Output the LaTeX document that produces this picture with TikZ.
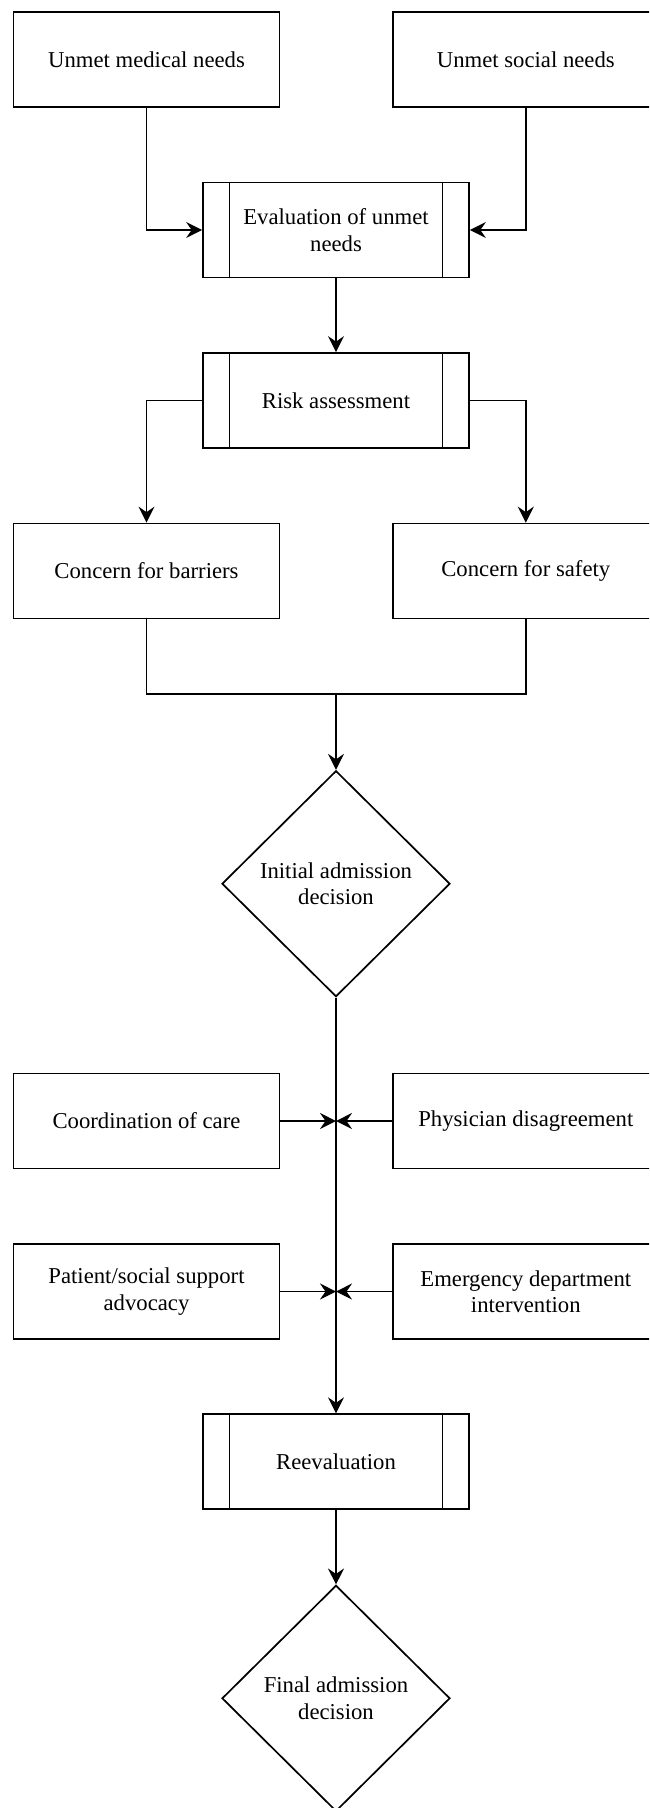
\documentclass[tikz,border=0pt]{standalone}
\usepackage{fontspec}
\setmainfont{Liberation Serif}
\usetikzlibrary{arrows.meta,shapes.geometric}
\begin{document}
\begin{tikzpicture}[x=1pt,y=-1pt,
  every node/.style={font=\fontsize{22.7pt}{26.5pt}\selectfont, align=center},
  procbox/.style={draw, line width=1.7pt, minimum width=266pt, minimum height=95pt, inner sep=0pt},
  predef/.style={procbox, path picture={
      \draw[line width=1.7pt] ([xshift=26.5pt]path picture bounding box.north west) -- ([xshift=26.5pt]path picture bounding box.south west);
      \draw[line width=1.7pt] ([xshift=-26.5pt]path picture bounding box.north east) -- ([xshift=-26.5pt]path picture bounding box.south east);}},
  decis/.style={draw, diamond, line width=1.7pt, minimum width=228pt, minimum height=226pt, inner sep=0pt},
  conn/.style={line width=1.7pt},
  arr/.style={conn, -{Stealth[length=16pt, width=16pt, inset=5.5pt]}}
]
\useasboundingbox (0,0) rectangle (649,1808);
\clip (0,0) rectangle (649,1808);
\fill[white] (0,0) rectangle (649,1808);

\node[procbox] (med) at (146.5,59.7) {Unmet medical needs};
\node[procbox] (soc) at (525.8,59.7) {Unmet social needs};
\node[predef] (eval) at (336,230) {Evaluation of unmet\\needs};
\node[predef] (risk) at (336,400.5) {Risk assessment};
\node[procbox] (bar) at (146.5,571) {Concern for barriers};
\node[procbox] (saf) at (525.8,571) {Concern for safety};
\node[decis] (init) at (336,883.7) {Initial admission\\decision};
\node[procbox] (coord) at (146.5,1121) {Coordination of care};
\node[procbox] (phys) at (525.8,1121) {Physician disagreement};
\node[procbox] (pat) at (146.5,1291.5) {Patient/social support\\advocacy};
\node[procbox] (emer) at (525.8,1291.5) {Emergency department\\intervention};
\node[predef] (reev) at (336,1461.7) {Reevaluation};
\node[decis] (fin) at (336,1698.3) {Final admission\\decision};

\coordinate (j) at (336,694);
\coordinate (m1) at (336,1121);
\coordinate (m2) at (336,1291.5);

\draw[arr] (med.south) |- (eval.west);
\draw[arr] (soc.south) |- (eval.east);
\draw[arr] (eval.south) -- (risk.north);
\draw[arr] (risk.west) -| (bar.north);
\draw[arr] (risk.east) -| (saf.north);
\draw[conn] (bar.south) |- (j) -| (saf.south);
\draw[arr] (j) -- (init.north);
\draw[arr] (init.south) -- (reev.north);
\draw[arr] (coord.east) -- (m1);
\draw[arr] (phys.west) -- (m1);
\draw[arr] (pat.east) -- (m2);
\draw[arr] (emer.west) -- (m2);
\draw[arr] (reev.south) -- (fin.north);
\end{tikzpicture}
\end{document}
